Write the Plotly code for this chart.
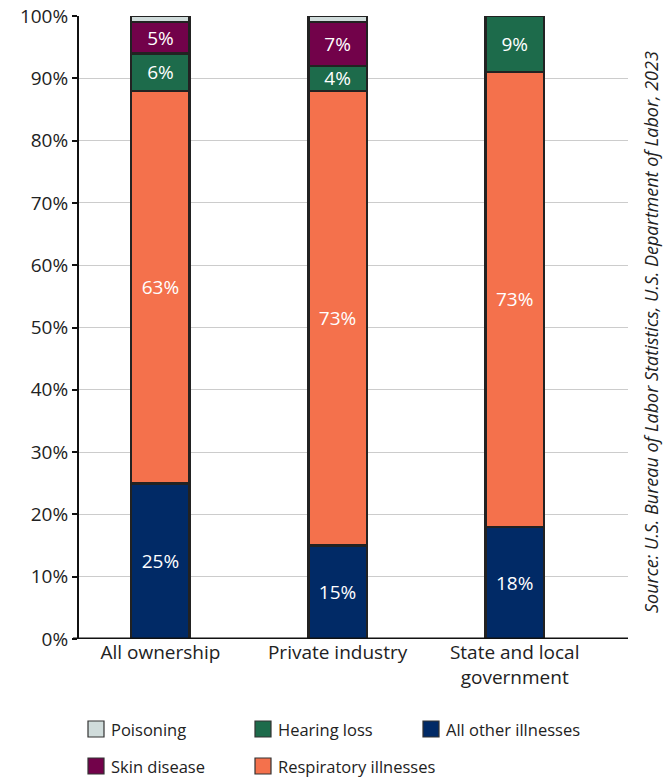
import plotly.graph_objects as go

categories = ["All ownership", "Private industry", "State and local<br>government"]
all_other = [25, 15, 18]
respiratory = [63, 73, 73]
hearing = [6, 4, 9]
skin = [5, 7, 0]
poisoning = [1, 1, 0]
y_ticks = [0, 10, 20, 30, 40, 50, 60, 70, 80, 90, 100]
y_tick_labels = [f"{v}%" for v in y_ticks]

series = [
    ("All other illnesses", all_other, "#012a66", True),
    ("Respiratory illnesses", respiratory, "#f4714c", True),
    ("Hearing loss", hearing, "#1d6b4b", True),
    ("Skin disease", skin, "#72024a", True),
    ("Poisoning", poisoning, "#d0dcdb", False),
]
# legend grid placement (column, row)
legend_pos = {
    "Poisoning": (0, 0), "Skin disease": (0, 1),
    "Hearing loss": (1, 0), "Respiratory illnesses": (1, 1),
    "All other illnesses": (2, 0),
}

# page body has an 8px margin: figure sits at (8, 8) in the window
OFF = 8
W, H = 672 - OFF, 780 - OFF
L, T = 79 - OFF, 16 - OFF
R = W - (628 - OFF)
B = H - (639 - OFF)
PW, PH = W - L - R, H - T - B
FONT = "Open Sans"
TXT = "#222222"

def px(x):
    # screen x -> paper
    return (x - OFF - L) / PW

def py(y):
    # screen y -> paper
    return (H - B - (y - OFF)) / PH

fig = go.Figure()
for name, vals, color, show_text in series:
    texts = [f"{v}%" if (show_text and v > 0) else "" for v in vals]
    fig.add_trace(go.Bar(
        name=name, x=categories, y=vals, text=texts,
        textposition="inside", insidetextanchor="middle", constraintext="none",
        textfont=dict(color="white", size=19, family=FONT),
        marker=dict(color=color, line=dict(color="#222222", width=2.5)),
        width=0.33, hoverinfo="skip", showlegend=False,
    ))

fig.update_layout(
    barmode="stack",
    width=W, height=H,
    margin=dict(l=L, r=R, t=T, b=B, autoexpand=False),
    paper_bgcolor="white", plot_bgcolor="white",
    font=dict(family=FONT, color=TXT),
    showlegend=False,
    xaxis=dict(
        type="category", range=[-0.46, 2.64],
        showline=False, ticks="", showgrid=False,
        tickfont=dict(size=19, color=TXT),
    ),
    yaxis=dict(
        range=[0, 100], tickvals=y_ticks, ticktext=y_tick_labels,
        showgrid=True, gridcolor="#cccccc", gridwidth=1,
        showline=True, linecolor="#111111", linewidth=2,
        ticks="outside", ticklen=5, tickwidth=2, tickcolor="#111111",
        tickfont=dict(size=19, color=TXT),
        ticklabeloverflow="allow",
        zeroline=False,
    ),
)

fig.add_shape(type="line", xref="paper", yref="y", x0=px(73), x1=1, y0=0, y1=0,
              line=dict(color="#111111", width=3))

# manual legend
col_x = [88, 255, 423]
row_y = [729, 766]
sq = 16
for name, vals, color, _ in series:
    c, r = legend_pos[name]
    x0 = col_x[c]
    yc = row_y[r]
    fig.add_shape(type="rect", xref="paper", yref="paper",
                  x0=px(x0), x1=px(x0 + sq), y0=py(yc + sq / 2), y1=py(yc - sq / 2),
                  fillcolor=color, line=dict(color="#333333", width=1.2))
    fig.add_annotation(text=name, xref="paper", yref="paper",
                       x=px(x0 + sq + 5), y=py(yc), xanchor="left", yanchor="middle",
                       showarrow=False, font=dict(size=16.5, color=TXT, family=FONT))

fig.add_annotation(
    text="Source: U.S. Bureau of Labor Statistics, U.S. Department of Labor, 2023",
    xref="paper", yref="paper", x=px(651), y=py(332), xanchor="center", yanchor="middle",
    textangle=-90, showarrow=False,
    font=dict(size=18, color=TXT, family=FONT, style="italic"),
)

fig.write_html("out.html")
